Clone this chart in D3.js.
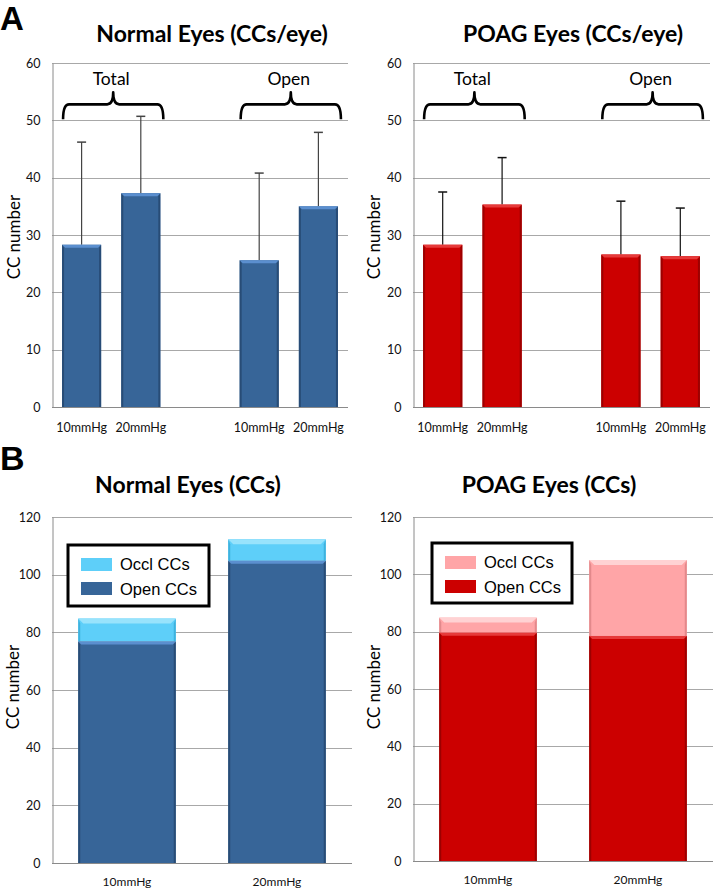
<!DOCTYPE html>
<html><head><meta charset="utf-8">
<script src="https://cdn.jsdelivr.net/npm/d3@7"></script>
<style>body{margin:0;background:#fff;} svg{display:block}</style>
</head><body><svg id="c" width="713" height="888"></svg>
<script>
// ---------- data ----------
const pressureLabels = ["10mmHg", "20mmHg"];
const groupLabels = ["Total", "Open"];
const slotsA = ["Total 10mmHg", "Total 20mmHg", "gap", "Open 10mmHg", "Open 20mmHg"];
const barSlotsA = ["Total 10mmHg", "Total 20mmHg", "Open 10mmHg", "Open 20mmHg"];
const normalPerEyeMean = [28.3, 37.3, 25.6, 35.0];
const normalPerEyeSD = [17.9, 13.4, 15.2, 12.9];
const poagPerEyeMean = [28.3, 35.3, 26.6, 26.3];
const poagPerEyeSD = [9.2, 8.2, 9.3, 8.4];
const normalOpenCCs = [76.8, 104.8];
const normalOcclCCs = [8.0, 7.5];
const poagOpenCCs = [79.6, 78.5];
const poagOcclCCs = [5.3, 26.5];
const yTicksA = [0, 10, 20, 30, 40, 50, 60];
const yTicksB = [0, 20, 40, 60, 80, 100, 120];
const titles = ["Normal Eyes (CCs/eye)", "POAG Eyes (CCs/eye)", "Normal Eyes (CCs)", "POAG Eyes (CCs)"];
const legendLabels = ["Occl CCs", "Open CCs"];
const yAxisLabel = "CC number";

// ---------- styles ----------
const FONT = "Lato, 'Open Sans', sans-serif";
const ARIAL = "'Liberation Sans', Arial, sans-serif";
const C = {
  blue:  {main: "#376598", light: "#5b8fcf", dark: "#284c76"},
  red:   {main: "#cc0000", light: "#e63a3a", dark: "#9c0000"},
  lblue: {main: "#5ecff9", light: "#98e3fc", dark: "#3eb2de"},
  pink:  {main: "#ffa5a7", light: "#ffd2d3", dark: "#e3898b"}
};
const GRID = "#a8a8a8", AXIS = "#8a8a8a";

const svg = d3.select("#c");

function bevelBar(g, x, y, w, h, col, b) {
  if (h <= 0) return;
  g.append("rect").attr("x", x).attr("y", y).attr("width", w).attr("height", h).attr("fill", col.main);
  const bb = Math.min(b, h);
  g.append("polygon").attr("points", [[x, y], [x + w, y], [x + w - bb, y + bb], [x + bb, y + bb]].join(" ")).attr("fill", col.light);
  const s = 2;
  g.append("polygon").attr("points", [[x, y], [x + s, y + bb], [x + s, y + h], [x, y + h]].join(" ")).attr("fill", col.dark);
  g.append("polygon").attr("points", [[x + w, y], [x + w - s, y + bb], [x + w - s, y + h], [x + w, y + h]].join(" ")).attr("fill", col.dark);
}

function frame(p, y, ticks) {
  const g = svg.append("g");
  g.selectAll("line.grid").data(ticks).join("line")
    .attr("x1", p.x0).attr("x2", p.x1)
    .attr("y1", d => Math.round(y(d)) + 0.5).attr("y2", d => Math.round(y(d)) + 0.5)
    .attr("stroke", d => d === 0 ? AXIS : GRID).attr("stroke-width", 1);
  const ax = g.append("g").attr("transform", `translate(${p.x0 + 0.5},0)`)
    .call(d3.axisLeft(y).tickValues(ticks).tickSize(0).tickPadding(12).tickFormat(d3.format("d")));
  ax.select(".domain").attr("stroke", AXIS);
  ax.selectAll("text").attr("font-family", FONT).attr("font-size", 12.5).attr("fill", "#111");
  svg.append("text").attr("x", p.tx).attr("y", p.ty).attr("text-anchor", "middle")
    .attr("font-family", FONT).attr("font-weight", 700).attr("font-size", 23).attr("fill", "#000").text(p.title);
  svg.append("text").attr("transform", `translate(${p.lx},${p.ly}) rotate(-90)`).attr("text-anchor", "middle")
    .attr("font-family", FONT).attr("font-size", 17).attr("fill", "#000").text(yAxisLabel);
  return g;
}

function panelA(p) {
  const y = d3.scaleLinear().domain([0, 60]).range([p.yB, p.yT]);
  const x = d3.scaleBand().domain(slotsA).range([p.x0, p.x1]).paddingInner(0.34).paddingOuter(0.17);
  const g = frame(p, y, yTicksA);
  const bw = x.bandwidth();
  barSlotsA.forEach((s, i) => {
    const bx = x(s), top = y(p.mean[i]);
    const cx = bx + bw / 2, et = y(p.mean[i] + p.sd[i]);
    g.append("line").attr("x1", cx).attr("x2", cx).attr("y1", top).attr("y2", et).attr("stroke", p.err).attr("stroke-width", 1.2);
    g.append("line").attr("x1", cx - 4.5).attr("x2", cx + 4.5).attr("y1", et).attr("y2", et).attr("stroke", p.err).attr("stroke-width", 1.5);
    bevelBar(g, bx, top, bw, y(0) - top, p.col, 3);
    svg.append("text").attr("x", cx).attr("y", p.yB + 25).attr("text-anchor", "middle")
      .attr("font-family", FONT).attr("font-size", 12.5).attr("fill", "#111").text(pressureLabels[i % 2]);
  });
  groupLabels.forEach((lab, k) => {
    const x0 = x(barSlotsA[k * 2]) + 1, x1 = x(barSlotsA[k * 2 + 1]) + bw + 3;
    const xm = (x0 + x1) / 2;
    const yb = y(50) - 1, yf = y(50) - 16, yp = y(50) - 28, r = 6;
    const path = `M${x0},${yb} Q${x0},${yf} ${x0 + r},${yf} L${xm - r},${yf} Q${xm},${yf} ${xm},${yp} Q${xm},${yf} ${xm + r},${yf} L${x1 - r},${yf} Q${x1},${yf} ${x1},${yb}`;
    svg.append("path").attr("d", path).attr("fill", "none").attr("stroke", "#000").attr("stroke-width", 2.6).attr("stroke-linejoin", "round");
    svg.append("text").attr("x", xm - 2).attr("y", y(50) - 35).attr("text-anchor", "middle")
      .attr("font-family", FONT).attr("font-size", 17.5).attr("fill", "#000").text(lab);
  });
}

function panelB(p) {
  const y = d3.scaleLinear().domain([0, 120]).range([p.yB, p.yT]);
  const x = d3.scaleBand().domain(pressureLabels).range([p.x0, p.x1]).paddingInner(0.35).paddingOuter(0.175);
  const g = frame(p, y, yTicksB);
  const bw = x.bandwidth();
  pressureLabels.forEach((lab, i) => {
    const bx = x(lab);
    const yOpen = y(p.open[i]), yTot = y(p.open[i] + p.occl[i]);
    bevelBar(g, bx, yTot, bw, yOpen - yTot, p.colOccl, 5);
    bevelBar(g, bx, yOpen, bw, y(0) - yOpen, p.colOpen, 3);
    svg.append("text").attr("x", bx + bw / 2).attr("y", p.yB + 23).attr("text-anchor", "middle")
      .attr("font-family", FONT).attr("font-size", 12).attr("fill", "#111").text(lab);
  });
  const L = p.leg;
  const lg = svg.append("g");
  lg.append("rect").attr("x", L.x).attr("y", L.y).attr("width", L.w).attr("height", L.h)
    .attr("fill", "#fff").attr("stroke", "#000").attr("stroke-width", 3);
  [p.colOccl, p.colOpen].forEach((c, k) => {
    lg.append("rect").attr("x", L.x + 13).attr("y", L.y + 13 + k * 24).attr("width", 31).attr("height", 13).attr("fill", c.main);
    lg.append("text").attr("x", L.x + 52).attr("y", L.y + 25 + k * 25).attr("font-family", ARIAL).attr("font-size", 16.5)
      .attr("fill", "#000").text(legendLabels[k]);
  });
}

svg.append("text").attr("x", 0).attr("y", 30).attr("font-family", ARIAL).attr("font-weight", 700).attr("font-size", 33).text("A");
svg.append("text").attr("x", 0).attr("y", 470).attr("font-family", ARIAL).attr("font-weight", 700).attr("font-size", 34).text("B");

panelA({x0: 52, x1: 348, yT: 63, yB: 407, mean: normalPerEyeMean, sd: normalPerEyeSD, col: C.blue, err: "#444",
  title: titles[0], tx: 212, ty: 42, lx: 20, ly: 237});
panelA({x0: 413, x1: 710, yT: 63, yB: 407, mean: poagPerEyeMean, sd: poagPerEyeSD, col: C.red, err: "#111",
  title: titles[1], tx: 573, ty: 42, lx: 380, ly: 237});
panelB({x0: 52, x1: 352, yT: 517, yB: 863, open: normalOpenCCs, occl: normalOcclCCs, colOpen: C.blue, colOccl: C.lblue,
  title: titles[2], tx: 188, ty: 493, lx: 19, ly: 687, leg: {x: 68, y: 545, w: 141, h: 61}});
panelB({x0: 413, x1: 713, yT: 517, yB: 861, open: poagOpenCCs, occl: poagOcclCCs, colOpen: C.red, colOccl: C.pink,
  title: titles[3], tx: 549, ty: 493, lx: 380, ly: 687, leg: {x: 432, y: 543, w: 140, h: 60}});
</script></body></html>
